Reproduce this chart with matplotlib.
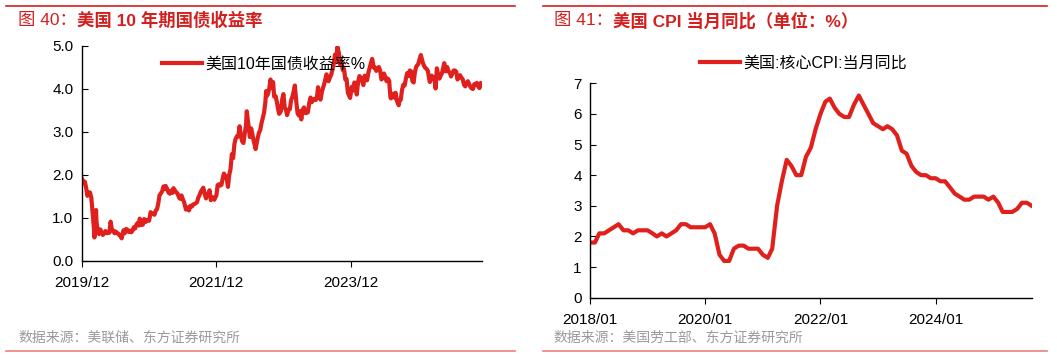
import numpy as np
import pandas as pd
import matplotlib
matplotlib.use('Agg')
import matplotlib.pyplot as plt
import matplotlib.dates as mdates
from matplotlib.lines import Line2D

plt.rcParams['font.family'] = ['Liberation Sans', 'Noto Sans CJK SC', 'DejaVu Sans']

# ---- 美国10年国债收益率 (约每周取值)
fechas_tasa = [
    '2019-12-31', '2020-01-10', '2020-01-17', '2020-01-24', '2020-01-31', '2020-02-07', '2020-02-14',
    '2020-02-21', '2020-02-28', '2020-03-06', '2020-03-09', '2020-03-13', '2020-03-18', '2020-03-20',
    '2020-03-27', '2020-04-03', '2020-04-10', '2020-04-17', '2020-04-24', '2020-05-01', '2020-05-08',
    '2020-05-15', '2020-05-22', '2020-05-29', '2020-06-05', '2020-06-12', '2020-06-19', '2020-06-26',
    '2020-07-03', '2020-07-10', '2020-07-17', '2020-07-24', '2020-07-31', '2020-08-04', '2020-08-14',
    '2020-08-21', '2020-08-28', '2020-09-04', '2020-09-11', '2020-09-18', '2020-09-25', '2020-10-02',
    '2020-10-09', '2020-10-16', '2020-10-23', '2020-10-30', '2020-11-06', '2020-11-10', '2020-11-20',
    '2020-11-27', '2020-12-04', '2020-12-11', '2020-12-18', '2020-12-31',
    '2021-01-08', '2021-01-15', '2021-01-22', '2021-01-29', '2021-02-05', '2021-02-12', '2021-02-19',
    '2021-02-25', '2021-03-05', '2021-03-12', '2021-03-19', '2021-03-26', '2021-03-31', '2021-04-09',
    '2021-04-16', '2021-04-23', '2021-04-30', '2021-05-07', '2021-05-12', '2021-05-21', '2021-05-28',
    '2021-06-04', '2021-06-11', '2021-06-18', '2021-06-25', '2021-07-02', '2021-07-09', '2021-07-19',
    '2021-07-30', '2021-08-04', '2021-08-13', '2021-08-20', '2021-08-27', '2021-09-03', '2021-09-10',
    '2021-09-17', '2021-09-24', '2021-09-30', '2021-10-08', '2021-10-21', '2021-10-29', '2021-11-05',
    '2021-11-12', '2021-11-19', '2021-11-24', '2021-12-01', '2021-12-10', '2021-12-20', '2021-12-31',
    '2022-01-07', '2022-01-14', '2022-01-21', '2022-01-28', '2022-02-04', '2022-02-10', '2022-02-18',
    '2022-02-24', '2022-03-04', '2022-03-11', '2022-03-18', '2022-03-25', '2022-04-01', '2022-04-08',
    '2022-04-14', '2022-04-22', '2022-04-29', '2022-05-06', '2022-05-13', '2022-05-20', '2022-05-27',
    '2022-06-03', '2022-06-10', '2022-06-14', '2022-06-24', '2022-07-01', '2022-07-08', '2022-07-15',
    '2022-07-22', '2022-07-29', '2022-08-01', '2022-08-12', '2022-08-19', '2022-08-26', '2022-09-02',
    '2022-09-09', '2022-09-16', '2022-09-23', '2022-09-27', '2022-09-30', '2022-10-07', '2022-10-14',
    '2022-10-21', '2022-10-28', '2022-11-04', '2022-11-10', '2022-11-18', '2022-11-25', '2022-12-02',
    '2022-12-07', '2022-12-16', '2022-12-23', '2022-12-30',
    '2023-01-06', '2023-01-13', '2023-01-19', '2023-01-27', '2023-02-03', '2023-02-10', '2023-02-17',
    '2023-02-24', '2023-03-02', '2023-03-10', '2023-03-17', '2023-03-24', '2023-03-31', '2023-04-06',
    '2023-04-14', '2023-04-21', '2023-04-28', '2023-05-05', '2023-05-12', '2023-05-19', '2023-05-26',
    '2023-06-02', '2023-06-09', '2023-06-16', '2023-06-23', '2023-06-30', '2023-07-06', '2023-07-14',
    '2023-07-19', '2023-07-28', '2023-08-04', '2023-08-11', '2023-08-21', '2023-08-25', '2023-09-01',
    '2023-09-08', '2023-09-15', '2023-09-22', '2023-09-29', '2023-10-06', '2023-10-13', '2023-10-19',
    '2023-10-27', '2023-11-03', '2023-11-10', '2023-11-17', '2023-11-24', '2023-12-01', '2023-12-08',
    '2023-12-15', '2023-12-27',
    '2024-01-05', '2024-01-12', '2024-01-19', '2024-01-26', '2024-02-01', '2024-02-09', '2024-02-16',
    '2024-02-23', '2024-03-01', '2024-03-08', '2024-03-15', '2024-03-22', '2024-03-28', '2024-04-05',
    '2024-04-12', '2024-04-19', '2024-04-25', '2024-05-03', '2024-05-10', '2024-05-17', '2024-05-24',
    '2024-05-31', '2024-06-07', '2024-06-14', '2024-06-21', '2024-06-28', '2024-07-05', '2024-07-12',
    '2024-07-19', '2024-07-26', '2024-08-02', '2024-08-05', '2024-08-16', '2024-08-23', '2024-08-30',
    '2024-09-06', '2024-09-16', '2024-09-20', '2024-09-27', '2024-10-04', '2024-10-11', '2024-10-18',
    '2024-10-25', '2024-11-01', '2024-11-08', '2024-11-15', '2024-11-22', '2024-11-29', '2024-12-06',
    '2024-12-13', '2024-12-20', '2024-12-31',
    '2025-01-07', '2025-01-14', '2025-01-24', '2025-01-31', '2025-02-07', '2025-02-14', '2025-02-21',
    '2025-02-28', '2025-03-04', '2025-03-14', '2025-03-21', '2025-03-28', '2025-04-04', '2025-04-11',
    '2025-04-18', '2025-04-25', '2025-05-02', '2025-05-09', '2025-05-21', '2025-05-30', '2025-06-06',
    '2025-06-13', '2025-06-20', '2025-06-27', '2025-07-03', '2025-07-11', '2025-07-18', '2025-07-25',
    '2025-08-01', '2025-08-08', '2025-08-15', '2025-08-22', '2025-08-29', '2025-09-05', '2025-09-12',
    '2025-09-19', '2025-09-26', '2025-10-03', '2025-10-10', '2025-10-17', '2025-10-24', '2025-10-31',
    '2025-11-07', '2025-11-14', '2025-11-21', '2025-11-28', '2025-12-05', '2025-12-12',
]
tasa_10y = [
    1.92, 1.82, 1.84, 1.70, 1.51, 1.59, 1.59,
    1.47, 1.13, 0.76, 0.54, 0.98, 1.18, 0.92,
    0.68, 0.62, 0.73, 0.65, 0.60, 0.64, 0.69,
    0.64, 0.66, 0.65, 0.91, 0.71, 0.70, 0.64,
    0.68, 0.64, 0.63, 0.59, 0.55, 0.52, 0.71,
    0.64, 0.74, 0.72, 0.67, 0.70, 0.66, 0.70,
    0.78, 0.75, 0.84, 0.88, 0.82, 0.98, 0.83,
    0.84, 0.97, 0.90, 0.95, 0.93,
    1.13, 1.09, 1.09, 1.07, 1.17, 1.20, 1.34,
    1.52, 1.57, 1.62, 1.73, 1.67, 1.74, 1.66,
    1.58, 1.56, 1.63, 1.58, 1.69, 1.63, 1.59,
    1.56, 1.47, 1.44, 1.52, 1.43, 1.36, 1.19,
    1.24, 1.17, 1.28, 1.26, 1.31, 1.32, 1.34,
    1.36, 1.47, 1.52, 1.61, 1.70, 1.55, 1.45,
    1.56, 1.54, 1.64, 1.41, 1.48, 1.42, 1.52,
    1.76, 1.78, 1.75, 1.77, 1.93, 2.03, 1.93,
    1.96, 1.72, 2.00, 2.14, 2.48, 2.39, 2.72,
    2.83, 2.90, 2.89, 3.13, 2.93, 2.78, 2.74,
    2.96, 3.15, 3.48, 3.13, 2.88, 3.08, 2.93,
    2.78, 2.67, 2.60, 2.85, 2.98, 3.04, 3.20,
    3.32, 3.45, 3.69, 3.95, 3.83, 3.88, 4.01,
    4.22, 4.02, 4.16, 3.82, 3.83, 3.68, 3.51,
    3.42, 3.48, 3.75, 3.88,
    3.57, 3.51, 3.39, 3.52, 3.53, 3.74, 3.82,
    3.95, 4.08, 3.70, 3.43, 3.38, 3.48, 3.29,
    3.52, 3.57, 3.44, 3.44, 3.46, 3.67, 3.80,
    3.69, 3.74, 3.77, 3.74, 3.81, 4.04, 3.83,
    3.75, 3.95, 4.05, 4.16, 4.34, 4.25, 4.18,
    4.26, 4.33, 4.44, 4.59, 4.80, 4.63, 4.98,
    4.84, 4.57, 4.65, 4.44, 4.47, 4.22, 4.23,
    3.91, 3.79,
    4.05, 3.96, 4.15, 4.14, 3.87, 4.18, 4.30,
    4.26, 4.19, 4.09, 4.31, 4.22, 4.20, 4.39,
    4.50, 4.62, 4.70, 4.50, 4.50, 4.42, 4.47,
    4.51, 4.43, 4.22, 4.25, 4.36, 4.28, 4.18,
    4.24, 4.19, 3.80, 3.78, 3.89, 3.80, 3.91,
    3.72, 3.62, 3.73, 3.75, 3.98, 4.10, 4.08,
    4.24, 4.37, 4.30, 4.43, 4.41, 4.18, 4.15,
    4.40, 4.52, 4.58,
    4.69, 4.79, 4.62, 4.54, 4.49, 4.47, 4.42,
    4.24, 4.16, 4.31, 4.25, 4.27, 4.01, 4.48,
    4.33, 4.24, 4.31, 4.37, 4.60, 4.41, 4.51,
    4.41, 4.38, 4.29, 4.35, 4.43, 4.43, 4.40,
    4.22, 4.28, 4.32, 4.26, 4.23, 4.10, 4.06,
    4.14, 4.18, 4.12, 4.05, 4.01, 4.00, 4.11,
    4.10, 4.14, 4.06, 4.02, 4.14, 4.08,
]
ticks_tasa = ['2019-12-31', '2021-12-31', '2023-12-31']

# ---- 美国核心CPI当月同比 (月度)
meses_cpi = pd.date_range('2018-01-01', '2025-09-01', freq='MS')
cpi_core = [
    1.8, 1.8, 2.1, 2.1, 2.2, 2.3, 2.4, 2.2, 2.2, 2.1, 2.2, 2.2,
    2.2, 2.1, 2.0, 2.1, 2.0, 2.1, 2.2, 2.4, 2.4, 2.3, 2.3, 2.3,
    2.3, 2.4, 2.1, 1.4, 1.2, 1.2, 1.6, 1.7, 1.7, 1.6, 1.6, 1.6,
    1.4, 1.3, 1.6, 3.0, 3.8, 4.5, 4.3, 4.0, 4.0, 4.6, 4.9, 5.5,
    6.0, 6.4, 6.5, 6.2, 6.0, 5.9, 5.9, 6.3, 6.6, 6.3, 6.0, 5.7,
    5.6, 5.5, 5.6, 5.5, 5.3, 4.8, 4.7, 4.3, 4.1, 4.0, 4.0, 3.9,
    3.9, 3.8, 3.8, 3.6, 3.4, 3.3, 3.2, 3.2, 3.3, 3.3, 3.3, 3.2,
    3.3, 3.1, 2.8, 2.8, 2.8, 2.9, 3.1, 3.1, 3.0,
]
ticks_cpi = ['2018-01-01', '2020-01-01', '2022-01-01', '2024-01-01']

rojo = '#e0201c'
rojo_titulo = '#d41f1f'
salmon = '#ee8078'
gris = '#9a9a9a'

fig = plt.figure(figsize=(10.57, 3.58), dpi=100)

# lineas decorativas
fig.add_artist(Line2D([6/1057, 515/1057], [1-6/358, 1-6/358], color=rojo_titulo, lw=1.2))
fig.add_artist(Line2D([543/1057, 1047/1057], [1-6/358, 1-6/358], color=rojo_titulo, lw=1.2))
fig.add_artist(Line2D([6/1057, 515/1057], [1-351/358, 1-351/358], color=salmon, lw=1.2))
fig.add_artist(Line2D([543/1057, 1047/1057], [1-351/358, 1-351/358], color=salmon, lw=1.2))


def titulo(x, pre, resto):
    t1 = fig.text(x/1057, 1-20.5/358, pre, color=rojo_titulo, fontsize=12.5, va='center', ha='left')
    plt.annotate(resto, xy=(1, 0.5), xycoords=t1, va='center', ha='left',
                 color=rojo_titulo, fontsize=12.5, fontweight='bold')


def estilo(ax, pad_x):
    for lado in ['top', 'right']:
        ax.spines[lado].set_visible(False)
    ax.spines['left'].set_linewidth(1.0)
    ax.spines['bottom'].set_linewidth(1.0)
    ax.tick_params(axis='y', direction='in', length=4, labelsize=11, pad=6)
    ax.tick_params(axis='x', direction='out', length=4, labelsize=11, pad=pad_x)


# ---- panel izquierdo
ax1 = fig.add_axes([81.7/1057, 1-260.7/358, (482-81.7)/1057, (260.7-46)/358])
x1 = pd.to_datetime(fechas_tasa)
ax1.plot(x1, tasa_10y, color=rojo, lw=3, label='美国10年国债收益率%')
ax1.set_ylim(0, 5)
ax1.set_yticks(np.arange(0, 5.01, 1.0))
ax1.yaxis.set_major_formatter(plt.FormatStrFormatter('%.1f'))
ax1.set_xlim(x1[0], x1[-1])
ax1.set_xticks(pd.to_datetime(ticks_tasa))
ax1.xaxis.set_major_formatter(mdates.DateFormatter('%Y/%m'))
estilo(ax1, 7)
ax1.legend(loc='center left', bbox_to_anchor=((162-81.7)/400.3, (260.7-64)/214.7), frameon=False,
           fontsize=11.5, handlelength=2.5, handletextpad=0.2, borderaxespad=0, borderpad=0)

# ---- panel derecho
ax2 = fig.add_axes([590/1057, 1-297.7/358, (1031.7-590)/1057, (297.7-83.3)/358])
ax2.plot(meses_cpi, cpi_core, color=rojo, lw=3, label='美国:核心CPI:当月同比')
ax2.set_ylim(0, 7)
ax2.set_yticks(range(0, 8))
ax2.set_xlim(meses_cpi[0], meses_cpi[-1])
ax2.set_xticks(pd.to_datetime(ticks_cpi))
ax2.xaxis.set_major_formatter(mdates.DateFormatter('%Y/%m'))
estilo(ax2, 7)
ax2.legend(loc='center left', bbox_to_anchor=((700-590)/441.7, (297.7-63)/214.4), frameon=False,
           fontsize=11.5, handlelength=2.5, handletextpad=0.2, borderaxespad=0, borderpad=0)

titulo(18, '图 40：', '美国 10 年期国债收益率')
titulo(554, '图 41：', '美国 CPI 当月同比（单位：%）')

fig.text(18/1057, 1-338/358, '数据来源：美联储、东方证券研究所', color=gris, fontsize=10, va='center')
fig.text(553/1057, 1-338/358, '数据来源：美国劳工部、东方证券研究所', color=gris, fontsize=10, va='center')

fig.savefig('out.png', dpi=100)
